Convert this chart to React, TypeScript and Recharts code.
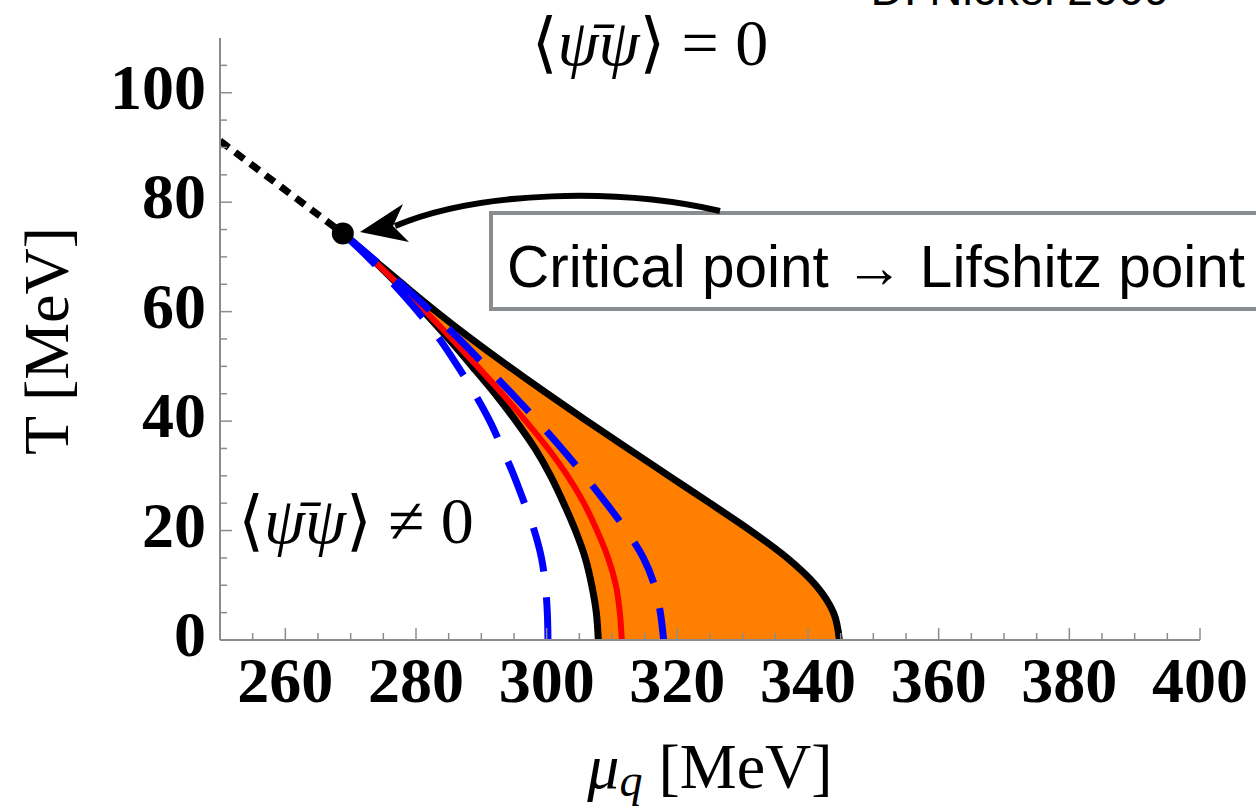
import React from 'react';
import { ComposedChart, Area, Line, XAxis, YAxis, ReferenceDot } from 'recharts';

// temperature grid (MeV), from the critical point down to T = 0
const tGrid = [74.3, 70, 65, 60, 55, 50, 45, 40, 35, 30, 25, 20, 15, 10, 5, 0];

// chemical potential of each curve at those temperatures (MeV)
const muUpperBlack = [268.8, 273.0, 278.0, 283.1, 288.5, 294.2, 300.1, 306.2, 312.4, 318.7, 325.0, 331.2, 336.8, 341.2, 343.9, 344.8];
const muLowerBlack = [268.8, 272.9, 277.2, 281.2, 285.0, 288.6, 292.1, 295.3, 298.2, 300.6, 302.6, 304.4, 305.9, 306.9, 307.6, 307.9];
const muRed = [268.8, 272.9, 277.3, 281.5, 285.5, 289.4, 293.2, 296.8, 300.2, 303.2, 305.7, 307.7, 309.4, 310.6, 311.2, 311.5];
const muBlueLeft = [268.8, 272.6, 276.6, 280.3, 283.6, 286.4, 289.0, 291.3, 293.2, 295.0, 296.6, 298.1, 299.2, 299.8, 300.1, 300.2];
const muBlueRight = [268.8, 273.1, 277.8, 282.3, 286.6, 290.7, 294.7, 298.6, 302.3, 305.8, 309.1, 312.2, 314.8, 316.5, 317.4, 317.9];

// crossover (dotted) line up to the critical point
const tDotted = [91.2, 74.3];
const muDotted = [250, 268.8];

const criticalPoint = { mu: 268.8, T: 74.3 };

const xMajor = [260, 280, 300, 320, 340, 360, 380, 400];
const yMajor = [0, 20, 40, 60, 80, 100];
const xTicks = [255, 260, 265, 270, 275, 280, 285, 290, 295, 300, 305, 310, 315, 320, 325, 330, 335, 340, 345, 350, 355, 360, 365, 370, 375, 380, 385, 390, 395, 400];
const yTicks = [0, 5, 10, 15, 20, 25, 30, 35, 40, 45, 50, 55, 60, 65, 70, 75, 80, 85, 90, 95, 100, 105];

const band = tGrid.map((T, i) => ({ T, range: [muLowerBlack[i], muUpperBlack[i]] }));
const curve = (mus: number[], ts: number[] = tGrid) => ts.map((T, i) => ({ T, mu: mus[i] }));

const AXIS = '#8c8c8c';
const SERIF = "'Liberation Serif', 'Times New Roman', serif";
const MATH = "'Liberation Serif', 'DejaVu Serif', serif";
const SANS = "'Liberation Sans', Arial, sans-serif";

const XTick = (props: any) => {
  const { x, y, payload } = props;
  const major = xMajor.includes(payload.value);
  return (
    <g>
      <line x1={x} x2={x} y1={y} y2={y - (major ? 12 : 7)} stroke={AXIS} strokeWidth={1.5} />
      {major && (
        <text x={x} y={y + 62} textAnchor="middle" fontFamily={SERIF} fontWeight="bold" fontSize={64} fill="#000">
          {payload.value}
        </text>
      )}
    </g>
  );
};

const YTick = (props: any) => {
  const { x, y, payload } = props;
  const major = yMajor.includes(payload.value);
  return (
    <g>
      <line x1={x} x2={x + (major ? 12 : 7)} y1={y} y2={y} stroke={AXIS} strokeWidth={1.5} />
      {major && (
        <text x={x - 14} y={y + 16} textAnchor="end" fontFamily={SERIF} fontWeight="bold" fontSize={64} fill="#000">
          {payload.value}
        </text>
      )}
    </g>
  );
};

const Overlay = () => (
  <svg width={1256} height={808} style={{ position: 'absolute', left: 0, top: 0, pointerEvents: 'none' }}>
    <text x={1020} y={5} textAnchor="middle" fontFamily={SANS} fontSize={46} fill="#000">
      D. Nickel 2009
    </text>
    <text x={650} y={65} textAnchor="middle" fontFamily={MATH} fontSize={66} fill="#000">
      ⟨<tspan fontStyle="italic">ψ̄ψ</tspan>⟩ = 0
    </text>
    <text x={356} y={543} textAnchor="middle" fontFamily={MATH} fontSize={66} fill="#000">
      ⟨<tspan fontStyle="italic">ψ̄ψ</tspan>⟩ ≠ 0
    </text>
    <text x={68} y={341} textAnchor="middle" transform="rotate(-90 68 341)" fontFamily={SERIF} fontSize={64} fill="#000">
      T [MeV]
    </text>
    <text x={710} y={788} textAnchor="middle" fontFamily={SERIF} fontSize={64} fill="#000">
      <tspan fontStyle="italic">μ</tspan>
      <tspan fontStyle="italic" fontSize={46} dy={8}>q</tspan>
      <tspan dy={-8}> [MeV]</tspan>
    </text>
    <rect x={491} y={213} width={800} height={96} fill="#fff" stroke="#8a8d90" strokeWidth={4} />
    <text x={507} y={287} fontFamily={SANS} fontSize={58.5} fill="#000">
      Critical point → Lifshitz point
    </text>
    <path d="M 720 211 C 620 188, 480 190, 395 226" fill="none" stroke="#000" strokeWidth={6} />
    <polygon points="360,232 403,204 393,226 409,242" fill="#000" />
  </svg>
);

export default function App() {
  return (
    <div style={{ position: 'absolute', left: 0, top: 0, width: 1256, height: 808, background: '#fff' }}>
      <ComposedChart
        width={1256}
        height={808}
        layout="vertical"
        margin={{ top: 38, right: 56, bottom: 0, left: 0 }}
      >
        <XAxis
          type="number"
          domain={[250, 400]}
          ticks={xTicks}
          interval={0}
          allowDataOverflow
          height={168}
          tickSize={0}
          tickMargin={0}
          tickLine={false}
          tick={<XTick />}
          axisLine={{ stroke: AXIS, strokeWidth: 2 }}
        />
        <YAxis
          type="number"
          dataKey="T"
          domain={[0, 110]}
          ticks={yTicks}
          interval={0}
          reversed
          allowDataOverflow
          width={220}
          tickSize={0}
          tickMargin={0}
          tickLine={false}
          tick={<YTick />}
          axisLine={{ stroke: AXIS, strokeWidth: 2 }}
        />
        <Area
          data={band}
          dataKey="range"
          type="monotone"
          fill="#ff8000"
          fillOpacity={1}
          stroke="none"
          isAnimationActive={false}
        />
        <Line data={curve(muLowerBlack)} dataKey="mu" type="monotone" stroke="#000" strokeWidth={7} dot={false} isAnimationActive={false} />
        <Line data={curve(muUpperBlack)} dataKey="mu" type="monotone" stroke="#000" strokeWidth={7} dot={false} isAnimationActive={false} />
        <Line data={curve(muRed)} dataKey="mu" type="monotone" stroke="#ff0000" strokeWidth={6} dot={false} isAnimationActive={false} />
        <Line data={curve(muBlueLeft)} dataKey="mu" type="monotone" stroke="#0000ff" strokeWidth={7} strokeDasharray="45 26" dot={false} isAnimationActive={false} />
        <Line data={curve(muBlueRight)} dataKey="mu" type="monotone" stroke="#0000ff" strokeWidth={7} strokeDasharray="45 26" dot={false} isAnimationActive={false} />
        <Line data={curve(muDotted, tDotted)} dataKey="mu" type="linear" stroke="#000" strokeWidth={7} strokeDasharray="11 8" dot={false} isAnimationActive={false} />
        <ReferenceDot x={criticalPoint.mu} y={criticalPoint.T} r={11} fill="#000" stroke="none" />
      </ComposedChart>
      <Overlay />
    </div>
  );
}
